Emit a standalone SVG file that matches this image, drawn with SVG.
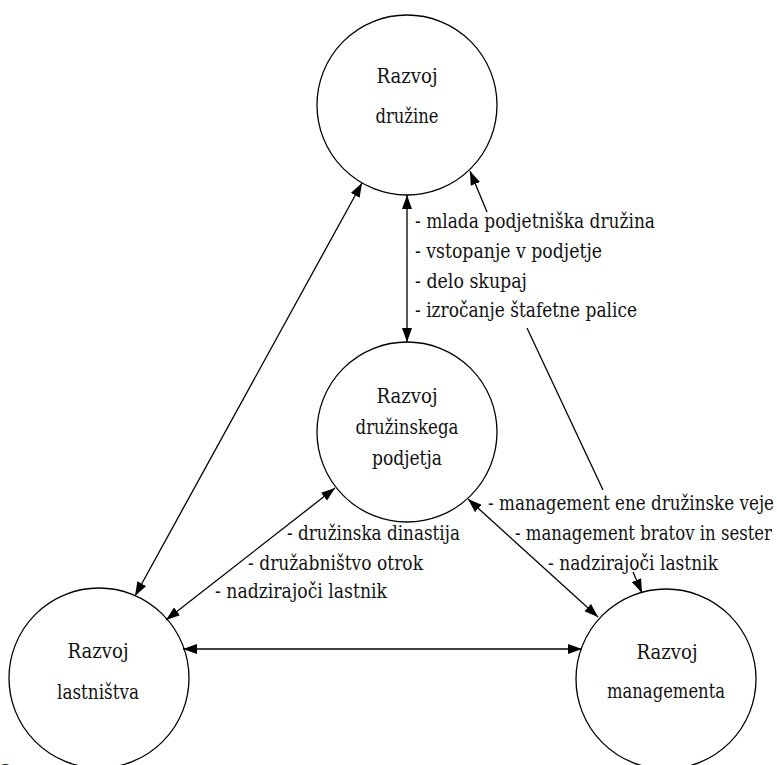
<svg xmlns="http://www.w3.org/2000/svg" width="777" height="765" viewBox="0 0 777 765">
  <style>
    .node circle { fill: none; stroke: #000; stroke-width: 1.3; }
    text { font-family: 'DejaVu Serif', 'Liberation Serif', serif; font-size: 20px; fill: #111; }
    .title { text-anchor: middle; }
    .edges line { stroke: #000; stroke-width: 1.3; }
  </style>
  <defs>
    <marker id="head" viewBox="0 0 14 10" refX="14" refY="5" markerWidth="14" markerHeight="10" markerUnits="userSpaceOnUse" orient="auto-start-reverse">
      <path d="M0,0 L14,5 L0,10 Z" fill="#000"/>
    </marker>
  </defs>
  <rect width="777" height="765" fill="#fff"/>

  <g id="razvoj-druzine" class="node">
    <circle cx="407" cy="105" r="90"/>
    <text class="title" x="407" y="83" textLength="61" lengthAdjust="spacingAndGlyphs">Razvoj</text>
    <text class="title" x="407" y="123" textLength="63" lengthAdjust="spacingAndGlyphs">družine</text>
  </g>

  <g id="razvoj-druzinskega-podjetja" class="node">
    <circle cx="407" cy="432" r="90"/>
    <text class="title" x="407" y="403" textLength="61" lengthAdjust="spacingAndGlyphs">Razvoj</text>
    <text class="title" x="407" y="434" textLength="103" lengthAdjust="spacingAndGlyphs">družinskega</text>
    <text class="title" x="407" y="465" textLength="70" lengthAdjust="spacingAndGlyphs">podjetja</text>
  </g>

  <g id="razvoj-lastnistva" class="node">
    <circle cx="99" cy="678" r="90"/>
    <text class="title" x="98" y="658" textLength="61" lengthAdjust="spacingAndGlyphs">Razvoj</text>
    <text class="title" x="98" y="699" textLength="82" lengthAdjust="spacingAndGlyphs">lastništva</text>
  </g>

  <g id="razvoj-managementa" class="node">
    <circle cx="666" cy="679" r="90"/>
    <text class="title" x="667" y="659" textLength="61" lengthAdjust="spacingAndGlyphs">Razvoj</text>
    <text class="title" x="666" y="698" textLength="118" lengthAdjust="spacingAndGlyphs">managementa</text>
  </g>

  <g id="edges" class="edges">
    <line x1="407" y1="195" x2="407" y2="342" marker-start="url(#head)" marker-end="url(#head)"/>
    <line x1="362" y1="183" x2="135" y2="596" marker-start="url(#head)" marker-end="url(#head)"/>
    <line x1="335" y1="488" x2="166" y2="620" marker-start="url(#head)" marker-end="url(#head)"/>
    <line x1="468" y1="499" x2="598" y2="617" marker-start="url(#head)" marker-end="url(#head)"/>
    <line x1="183" y1="649" x2="582" y2="649" marker-start="url(#head)" marker-end="url(#head)"/>
    <line x1="487" y1="212" x2="470" y2="171" marker-end="url(#head)"/>
    <line x1="603" y1="490" x2="527" y2="328"/>
    <line x1="633" y1="572" x2="642" y2="593" marker-end="url(#head)"/>
  </g>

  <g id="labels">
    <text x="415" y="228" textLength="240" lengthAdjust="spacingAndGlyphs">- mlada podjetniška družina</text>
    <text x="415" y="258" textLength="187" lengthAdjust="spacingAndGlyphs">- vstopanje v podjetje</text>
    <text x="415" y="288" textLength="112" lengthAdjust="spacingAndGlyphs">- delo skupaj</text>
    <text x="415" y="317" textLength="222" lengthAdjust="spacingAndGlyphs">- izročanje štafetne palice</text>
    <text x="287" y="540" textLength="173" lengthAdjust="spacingAndGlyphs">- družinska dinastija</text>
    <text x="248" y="570" textLength="175" lengthAdjust="spacingAndGlyphs">- družabništvo otrok</text>
    <text x="215" y="598" textLength="172" lengthAdjust="spacingAndGlyphs">- nadzirajoči lastnik</text>
    <text x="488" y="510" textLength="286" lengthAdjust="spacingAndGlyphs">- management ene družinske veje</text>
    <text x="515" y="540" textLength="257" lengthAdjust="spacingAndGlyphs">- management bratov in sester</text>
    <text x="548" y="570" textLength="170" lengthAdjust="spacingAndGlyphs">- nadzirajoči lastnik</text>
  </g>

  <text x="-3" y="779" font-size="24">O</text>
</svg>
